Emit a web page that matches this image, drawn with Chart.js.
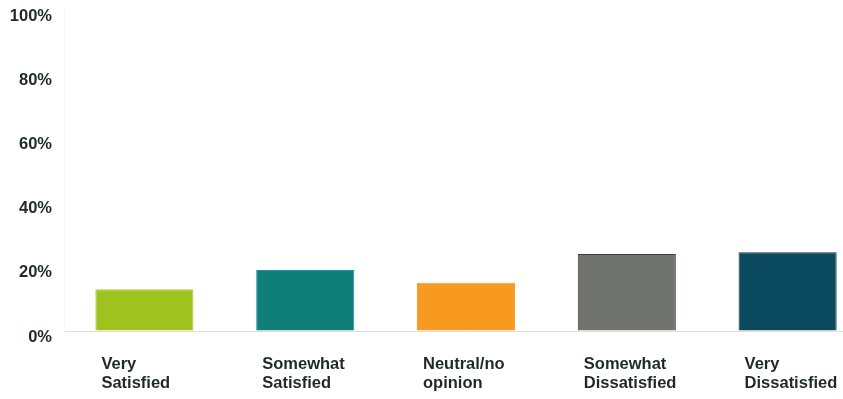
<!DOCTYPE html>
<html lang="en">
<head>
  <meta charset="UTF-8" />
  <title>Satisfaction Chart</title>
  <script src="https://cdn.jsdelivr.net/npm/chart.js"></script>
<style>
  * {
    margin: 0;
    padding: 0;
    box-sizing: border-box;
  }

  html, body {
    background: #ffffff;
    overflow: hidden;
  }

  /* wider than the window: the last bar sits right at the window edge */
  .chart-box {
    position: relative;
    width: 868px;
    height: 399px;
  }
</style>
</head>
<body>
  <div class="chart-box">
    <canvas id="barChart"></canvas>
  </div>

  <script>
  // Data
  const categories = [
    ['Very', 'Satisfied'],
    ['Somewhat', 'Satisfied'],
    ['Neutral/no', 'opinion'],
    ['Somewhat', 'Dissatisfied'],
    ['Very', 'Dissatisfied']
  ];
  const shares = [13, 19, 15, 24, 24.5];
  const yTicks = [0, 20, 40, 60, 80, 100];

  const barColors = ['#9fc21f', '#0f7e78', '#f89a1f', '#6f726d', '#0b4a5e'];
  const edgeColors = ['#a9cc2a', '#1c97b8', '#f89a1f', '#3c3f3b', '#0a3a48'];
  const textColor = '#1f2a27';
  const labelFont = { family: '"Liberation Sans", Arial, sans-serif', size: 16.5, weight: 'bold', lineHeight: 1.15 };

  new Chart(document.getElementById('barChart'), {
    type: 'bar',
    data: {
      labels: categories,
      datasets: [{
        data: shares,
        backgroundColor: barColors,
        borderColor: edgeColors,
        borderWidth: 1,
        barPercentage: 0.61,
        categoryPercentage: 1
      }]
    },
    options: {
      responsive: true,
      maintainAspectRatio: false,
      animation: false,
      layout: {
        padding: { top: 10, left: 10, right: 0, bottom: 0 }
      },
      plugins: {
        legend: { display: false },
        tooltip: { enabled: false }
      },
      scales: {
        x: {
          grid: { display: false, drawTicks: false },
          border: { display: true, color: '#dedede', width: 1 },
          afterFit: (axis) => {
            axis.height = 68;
            axis.paddingLeft = 0;
            axis.paddingRight = 0;
          },
          ticks: {
            align: 'start',
            labelOffset: -43,
            padding: 24,
            color: textColor,
            font: labelFont
          }
        },
        y: {
          min: 0,
          max: 100,
          afterBuildTicks: (axis) => {
            axis.ticks = yTicks.map(v => ({ value: v }));
          },
          afterFit: (axis) => {
            axis.width = 54;
            axis.paddingTop = 0;
            axis.paddingBottom = 0;
          },
          grid: { color: 'rgba(0,0,0,0)', drawTicks: false },
          border: { display: true, color: '#f5f5f5' },
          ticks: {
            padding: 12,
            labelOffset: 6,
            color: textColor,
            font: labelFont,
            callback: (v) => v + '%'
          }
        }
      }
    }
  });
</script>
</body>
</html>
